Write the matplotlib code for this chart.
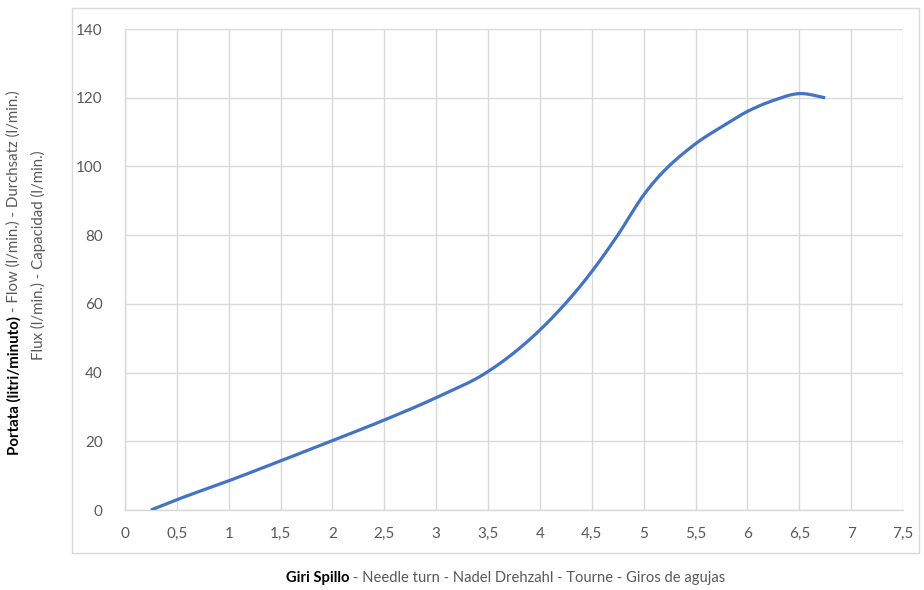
import numpy as np
import matplotlib
matplotlib.use('Agg')
from matplotlib import pyplot as plt
from matplotlib.patches import Rectangle

# needle turns vs flow (l/min)
turns = [0.25, 0.5, 1, 1.5, 2, 2.5, 3, 3.5, 4, 4.5, 4.75, 5, 5.5, 5.75, 6, 6.25, 6.5, 6.75]
flow = [0, 3, 8.5, 14.3, 20.2, 26.2, 32.7, 40.3, 52.4, 69.4, 80, 91.7, 106.6, 111.5, 116, 119.2, 121.2, 120]
x_ticks = [0, 0.5, 1, 1.5, 2, 2.5, 3, 3.5, 4, 4.5, 5, 5.5, 6, 6.5, 7, 7.5]
y_ticks = [0, 20, 40, 60, 80, 100, 120, 140]

gray = '#595959'
grid = '#d9d9d9'
plt.rcParams['font.family'] = ['Lato', 'DejaVu Sans']


def smooth(xs, ys, n=30):
    # smoothed line like excel: cubic hermite through the points,
    # tangents from neighbours, scaled by the x spacing
    x = np.asarray(xs, float)
    y = np.asarray(ys, float)
    m = np.gradient(y, x)
    m[0] = (y[1] - y[0]) / (x[1] - x[0])
    m[-1] = (y[-1] - y[-2]) / (x[-1] - x[-2])
    ox, oy = [], []
    for i in range(len(x) - 1):
        h = x[i + 1] - x[i]
        t = np.linspace(0, 1, n)
        if i:
            t = t[1:]
        h00 = 2 * t ** 3 - 3 * t ** 2 + 1
        h10 = t ** 3 - 2 * t ** 2 + t
        h01 = -2 * t ** 3 + 3 * t ** 2
        h11 = t ** 3 - t ** 2
        ox.append(x[i] + t * h)
        oy.append(h00 * y[i] + h10 * h * m[i] + h01 * y[i + 1] + h11 * h * m[i + 1])
    return np.concatenate(ox), np.concatenate(oy)


W, H = 924, 590
fig = plt.figure(figsize=(W / 100, H / 100), dpi=100)
ax = fig.add_axes([125 / W, 1 - 510 / H, (903 - 125) / W, (510 - 29) / H])

sx, sy = smooth(turns, flow)
ax.plot(sx, sy, color='#4472C4', lw=2.3, solid_capstyle='butt', zorder=3)

ax.set_xlim(0, 7.5)
ax.set_ylim(0, 140)
ax.set_xticks(x_ticks)
ax.set_xticklabels([('%g' % v).replace('.', ',') for v in x_ticks])
ax.set_yticks(y_ticks)
ax.grid(True, color=grid, lw=1)
ax.set_axisbelow(True)
ax.tick_params(length=0, colors=gray, labelsize=11)
ax.tick_params(axis='x', pad=12)
ax.tick_params(axis='y', pad=16)
for s in ['top', 'right']:
    ax.spines[s].set_visible(False)
for s in ['left', 'bottom']:
    ax.spines[s].set_color(grid)
    ax.spines[s].set_linewidth(1)

# chart area border
fig.patches.append(Rectangle((72 / W, 1 - 553 / H), (919 - 72) / W, (553 - 8) / H,
                             transform=fig.transFigure, fill=False, ec=grid, lw=1))

# x axis title (bold + regular part)
fig.text(349 / W, 1 - 578 / H, 'Giri Spillo', ha='right', va='center', fontsize=10.6,
         fontweight='bold', color='black')
fig.text(353 / W, 1 - 578 / H, '- Needle turn - Nadel Drehzahl - Tourne - Giros de agujas',
         ha='left', va='center', fontsize=10.6, color=gray)

# y axis title, two lines
fig.text(14 / W, 1 - 316 / H, 'Portata (litri/minuto)', rotation=90, ha='center', va='top',
         fontsize=10.8, fontweight='bold', color='black')
fig.text(14 / W, 1 - 312 / H, '- Flow (l/min.) - Durchsatz (l/min.)', rotation=90,
         ha='center', va='bottom', fontsize=10.8, color=gray)
fig.text(38 / W, 1 - 255 / H, 'Flux (l/min.) - Capacidad (l/min.)', rotation=90,
         ha='center', va='center', fontsize=10.8, color=gray)

fig.savefig('out.png', dpi=100)
